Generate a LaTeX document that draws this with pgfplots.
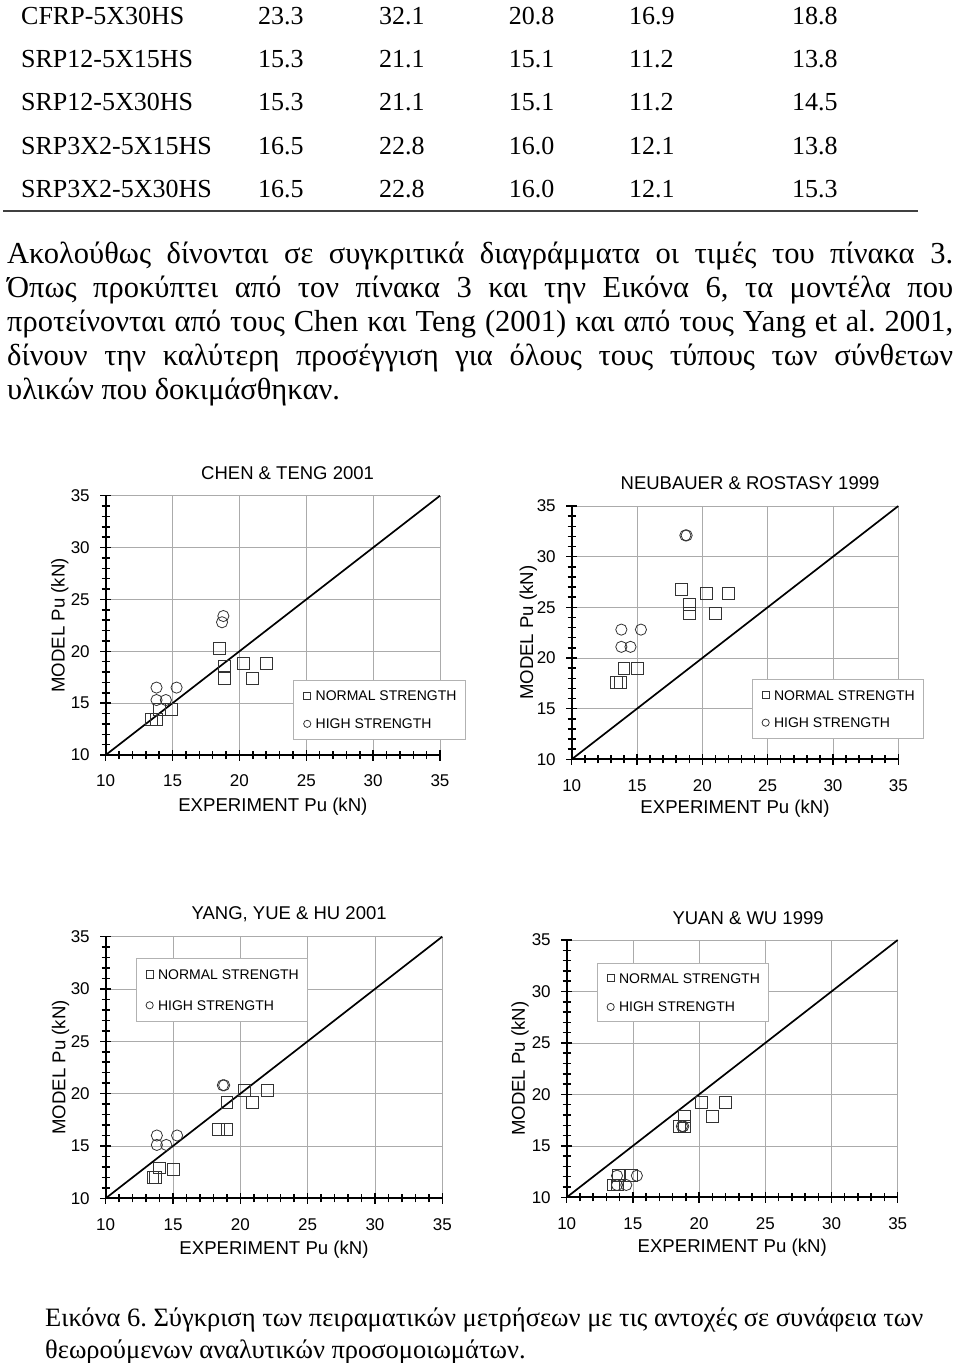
\documentclass[border=0pt]{standalone}
\usepackage{fontspec}
\setmainfont{Liberation Serif}
\newfontfamily\arial{Liberation Sans}
\usepackage{pgfplots}
\pgfplotsset{compat=1.18}
\frenchspacing
\newcommand\fs[1]{\fontsize{#1}{#1}\selectfont}
\newcommand\wt[1]{{\fs{26}#1}}
\newcommand\pl[1]{{\fs{30.5}#1}}
\newcommand\jl[1]{{\fs{30.5}\makebox[946pt][s]{#1}}}
\newcommand\cp[1]{{\fs{26.5}#1}}

\pgfplotsset{
  panel/.style={
    scale only axis, anchor=south west,
    xmin=10,xmax=35,ymin=10,ymax=35,
    axis x line*=bottom, axis y line*=left,
    axis line style={-, line width=1.8pt, black},
    xtick={10,15,...,35}, ytick={10,15,...,35},
    minor tick num=4,
    tick align=center,
    major tick length=11pt, minor tick length=8pt,
    tick style={black, line width=1.5pt},
    grid=major,
    major grid style={draw=black!33, line width=0.7pt},
    /pgf/number format/assume math mode=true,
    ticklabel style={font=\arial\fs{17}},
    xticklabel style={yshift=-11pt},
    yticklabel style={xshift=-7pt},
    xlabel={EXPERIMENT Pu (kN)}, ylabel={MODEL Pu (kN)},
    label style={font=\arial\fs{18.6}, anchor=center},
    clip=false,
    legend cell align=left,
    legend style={draw=black!30, line width=0.8pt, fill=white, font=\arial\fs{14},
      inner xsep=4pt, inner ysep=10.25pt, row sep=18.1pt, column sep=0pt,
      nodes={inner xsep=4.8pt, inner ysep=0pt, text height=10pt, text depth=0pt},
      anchor=north west},
    legend image code/.code={\draw[#1, mark size=3.6pt] plot coordinates {(0pt,0pt)};
      \path[draw=none,fill=none] (-9.6pt,0pt) -- (3.6pt,0pt);},
  },
  sq/.style={only marks, mark=square, mark size=5.9pt, draw=black!80, mark options={line width=0.8pt}},
  ci/.style={only marks, mark=o, mark size=5.6pt, draw=black!80, mark options={line width=0.8pt}},
  diag/.style={black, line width=1.7pt, forget plot},
}

\begin{document}
\begin{tikzpicture}
\useasboundingbox (0pt,0pt) rectangle (960pt,-1363pt);

% ---- table fragment ----
\foreach \y/\n/\a/\b/\c/\d/\e in {
  24/CFRP-5X30HS/23.3/32.1/20.8/16.9/18.8,
  67/SRP12-5X15HS/15.3/21.1/15.1/11.2/13.8,
  110/SRP12-5X30HS/15.3/21.1/15.1/11.2/14.5,
  154/SRP3X2-5X15HS/16.5/22.8/16.0/12.1/13.8,
  197/SRP3X2-5X30HS/16.5/22.8/16.0/12.1/15.3}{
  \node[anchor=base west,inner sep=0pt] at (21pt,-\y pt) {\wt{\n}};
  \node[anchor=base west,inner sep=0pt] at (258pt,-\y pt) {\wt{\a}};
  \node[anchor=base west,inner sep=0pt] at (379pt,-\y pt) {\wt{\b}};
  \node[anchor=base west,inner sep=0pt] at (508.6pt,-\y pt) {\wt{\c}};
  \node[anchor=base west,inner sep=0pt] at (629pt,-\y pt) {\wt{\d}};
  \node[anchor=base west,inner sep=0pt] at (792pt,-\y pt) {\wt{\e}};
}
\draw[black!75, line width=2pt] (3pt,-210.7pt) -- (918pt,-210.7pt);

% ---- paragraph ----
\node[anchor=base west,inner sep=0pt] at (7pt,-263pt) {\jl{Ακολούθως δίνονται σε συγκριτικά διαγράμματα οι τιμές του πίνακα 3.}};
\node[anchor=base west,inner sep=0pt] at (7pt,-297pt) {\jl{Όπως προκύπτει από τον πίνακα 3 και την Εικόνα 6, τα μοντέλα που}};
\node[anchor=base west,inner sep=0pt] at (7pt,-331pt) {\jl{προτείνονται από τους Chen και Teng (2001) και από τους Yang et al. 2001,}};
\node[anchor=base west,inner sep=0pt] at (7pt,-365pt) {\jl{δίνουν την καλύτερη προσέγγιση για όλους τους τύπους των σύνθετων}};
\node[anchor=base west,inner sep=0pt] at (7pt,-399pt) {\pl{υλικών που δοκιμάσθηκαν.}};

% ---- caption ----
\node[anchor=base west,inner sep=0pt] at (45pt,-1326pt) {\cp{Εικόνα 6. Σύγκριση των πειραματικών μετρήσεων με τις αντοχές σε συνάφεια των}};
\node[anchor=base west,inner sep=0pt] at (45pt,-1358pt) {\cp{θεωρούμενων αναλυτικών προσομοιωμάτων.}};

% ---- CHEN & TENG ----
\begin{axis}[panel, at={(105.7pt,-755pt)}, width=334.3pt, height=259.3pt,
  xlabel style={at={(axis description cs:0.5,-0.199)}},
  ylabel style={at={(axis description cs:-0.137,0.5)}},
  legend style={at={(0.561,0.289)}}]
\addplot[diag] coordinates {(10,10) (35,35)};
\addplot[sq] coordinates {(13.4,13.4) (13.8,13.4) (14.0,14.4) (14.9,14.4) (18.5,20.3) (18.9,18.6) (18.9,17.4) (20.3,18.8) (21.0,17.4) (22.0,18.8)};
\addplot[ci] coordinates {(13.8,15.3) (14.5,15.3) (13.8,16.5) (15.3,16.5) (18.7,22.8) (18.8,23.4)};
\legend{NORMAL STRENGTH, HIGH STRENGTH}
\node[font=\arial\fs{18.5}] at (rel axis cs:0.544,1) [yshift=22.7pt] {CHEN \& TENG 2001};
\end{axis}

% ---- NEUBAUER & ROSTASY ----
\begin{axis}[panel, at={(571.7pt,-759.3pt)}, width=326.6pt, height=253.3pt,
  xlabel style={at={(axis description cs:0.5,-0.196)}},
  ylabel style={at={(axis description cs:-0.133,0.5)}},
  legend style={at={(0.551,0.316)}, inner ysep=10.5pt, row sep=17.5pt}]
\addplot[diag] coordinates {(10,10) (35,35)};
\addplot[sq] coordinates {(13.4,17.6) (13.7,17.6) (14.0,19.0) (15.0,19.0) (18.4,26.8) (19.0,25.3) (19.0,24.4) (20.3,26.4) (21.0,24.4) (22.0,26.4)};
\addplot[ci] coordinates {(13.8,21.1) (14.5,21.1) (13.8,22.8) (15.3,22.8) (18.7,32.1) (18.8,32.1)};
\legend{NORMAL STRENGTH, HIGH STRENGTH}
\node[font=\arial\fs{18.5}] at (rel axis cs:0.546,1) [yshift=23pt] {NEUBAUER \& ROSTASY 1999};
\end{axis}

% ---- YANG, YUE & HU ----
\begin{axis}[panel, at={(105.7pt,-1198.3pt)}, width=336.6pt, height=261.7pt,
  xlabel style={at={(axis description cs:0.5,-0.195)}},
  ylabel style={at={(axis description cs:-0.134,0.5)}},
  legend style={at={(0.089,0.919)}, inner ysep=11.15pt, row sep=20.9pt}]
\addplot[diag] coordinates {(10,10) (35,35)};
\addplot[sq] coordinates {(13.5,12.0) (13.7,12.0) (14.0,12.9) (15.0,12.8) (18.4,16.6) (19.0,16.6) (19.0,19.2) (20.3,20.3) (20.9,19.2) (22.0,20.3)};
\addplot[ci] coordinates {(13.8,15.1) (14.5,15.1) (13.8,16.0) (15.3,16.0) (18.7,20.8) (18.8,20.8)};
\legend{NORMAL STRENGTH, HIGH STRENGTH}
\node[font=\arial\fs{18.5}] at (rel axis cs:0.545,1) [yshift=22.7pt] {YANG, YUE \& HU 2001};
\end{axis}

% ---- YUAN & WU ----
\begin{axis}[panel, at={(566.7pt,-1197.3pt)}, width=331pt, height=257.3pt,
  xlabel style={at={(axis description cs:0.5,-0.196)}},
  ylabel style={at={(axis description cs:-0.141,0.5)}},
  legend style={at={(0.0906,0.909)}, inner ysep=9.4pt, row sep=18.7pt}]
\addplot[diag] coordinates {(10,10) (35,35)};
\addplot[sq] coordinates {(13.5,11.2) (13.8,11.2) (13.9,12.1) (14.9,12.1) (18.5,16.9) (18.9,16.9) (18.9,17.9) (20.2,19.2) (21.0,17.9) (22.0,19.2)};
\addplot[ci] coordinates {(13.8,12.1) (13.8,11.2) (14.5,11.2) (15.3,12.1) (18.7,16.9) (18.8,16.9)};
\legend{NORMAL STRENGTH, HIGH STRENGTH}
\node[font=\arial\fs{18.5}] at (rel axis cs:0.548,1) [yshift=21.7pt] {YUAN \& WU 1999};
\end{axis}
\end{tikzpicture}
\end{document}
